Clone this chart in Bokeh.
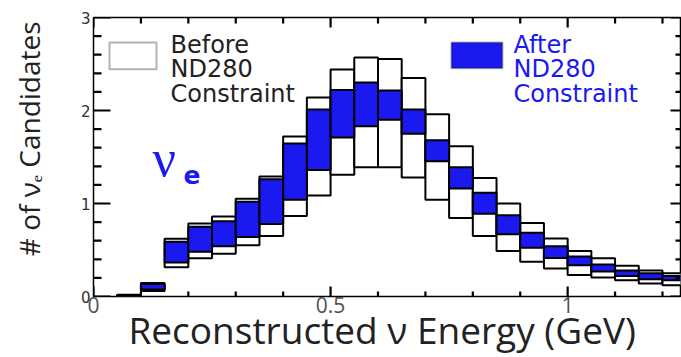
from bokeh.plotting import figure
from bokeh.models import Range1d, FixedTicker, Label, BoxAnnotation, ColumnDataSource
from bokeh.embed import file_html
from bokeh.resources import INLINE

# Reconstructed neutrino energy bins (GeV): lower edges and common width
bin_lo = [0.05, 0.10, 0.15, 0.20, 0.25, 0.30, 0.35, 0.40, 0.45, 0.50, 0.55, 0.60,
          0.65, 0.70, 0.75, 0.80, 0.85, 0.90, 0.95, 1.00, 1.05, 1.10, 1.15, 1.20]
bin_width = 0.05

# Expected nu_e candidates: error band before the ND280 constraint
before_lo = [0.00, 0.06, 0.315, 0.41, 0.46, 0.55, 0.65, 0.865, 1.085, 1.31, 1.39, 1.39,
             1.28, 1.04, 0.845, 0.65, 0.49, 0.375, 0.30, 0.23, 0.205, 0.175, 0.14, 0.12]
before_hi = [0.02, 0.145, 0.62, 0.785, 0.86, 1.05, 1.29, 1.72, 2.14, 2.44, 2.57, 2.555,
             2.35, 1.96, 1.615, 1.275, 1.00, 0.79, 0.625, 0.49, 0.41, 0.33, 0.28, 0.25]

# ... and after the ND280 constraint
after_lo = [0.005, 0.075, 0.365, 0.48, 0.54, 0.64, 0.78, 1.04, 1.36, 1.71, 1.83, 1.90,
            1.75, 1.455, 1.16, 0.89, 0.67, 0.525, 0.415, 0.335, 0.27, 0.22, 0.185, 0.175]
after_hi = [0.015, 0.135, 0.59, 0.75, 0.81, 1.02, 1.26, 1.645, 2.01, 2.22, 2.30, 2.215,
            2.01, 1.68, 1.39, 1.115, 0.875, 0.685, 0.54, 0.43, 0.345, 0.28, 0.25, 0.22]

x_major = [0, 0.5, 1.0]
x_minor = [0.1, 0.2, 0.3, 0.4, 0.6, 0.7, 0.8, 0.9, 1.1, 1.2]
y_major = [0, 1, 2, 3]
y_minor = [0.2, 0.4, 0.6, 0.8, 1.2, 1.4, 1.6, 1.8, 2.2, 2.4, 2.6, 2.8]

BLUE = "#1a1af0"
INK = "#222222"

X_END, Y_END = 1.238, 3.0
FRAME_W, FRAME_H = 587, 280

p = figure(width=681, height=357, x_range=Range1d(0, X_END), y_range=Range1d(0, Y_END),
           output_backend="svg", toolbar_location=None,
           min_border_left=93, min_border_right=1, min_border_top=17, min_border_bottom=60)
p.xgrid.visible = False
p.ygrid.visible = False
p.outline_line_color = "black"
p.outline_line_width = 1.5
p.background_fill_color = "white"
p.border_fill_color = "white"

bin_hi = [b + bin_width for b in bin_lo]
src_before = ColumnDataSource(dict(left=bin_lo, right=bin_hi, bottom=before_lo, top=before_hi))
src_after = ColumnDataSource(dict(left=bin_lo, right=bin_hi, bottom=after_lo, top=after_hi))

p.quad(left="left", right="right", bottom="bottom", top="top", source=src_before,
       fill_color="white", line_color="black", line_width=2)
p.quad(left="left", right="right", bottom="bottom", top="top", source=src_after,
       fill_color=BLUE, line_color="black", line_width=2)

# inward tick marks on all four sides: rects sized in screen pixels,
# centred half a tick length inside the frame edge
dx = X_END / FRAME_W
dy = Y_END / FRAME_H
TICK_W = 2.2

rx, ry, rw, rh = [], [], [], []


def y_ticks(at, x_edge, length, sign):
    for v in at:
        rx.append(x_edge + sign * 0.5 * length * dx)
        ry.append(v)
        rw.append(length)
        rh.append(TICK_W)


def x_ticks(at, y_edge, length, sign):
    for v in at:
        rx.append(v)
        ry.append(y_edge + sign * 0.5 * length * dy)
        rw.append(TICK_W)
        rh.append(length)


y_ticks(y_major, 0.0, 17, 1)
y_ticks(y_minor, 0.0, 8, 1)
y_ticks(y_major, X_END, 10, -1)
y_ticks(y_minor, X_END, 5, -1)
x_ticks(x_major, 0.0, 10, 1)
x_ticks(x_minor, 0.0, 5, 1)
x_ticks(x_major, Y_END, 10, -1)
x_ticks(x_minor, Y_END, 6, -1)

p.rect(x="x", y="y", width="w", height="h", width_units="screen", height_units="screen",
       source=ColumnDataSource(dict(x=rx, y=ry, w=rw, h=rh)),
       fill_color="black", line_color=None)

for ax in (p.xaxis[0], p.yaxis[0]):
    ax.axis_line_color = None
    ax.major_tick_line_color = None
    ax.minor_tick_line_color = None
    ax.major_tick_in = 0
    ax.major_tick_out = 0
    ax.minor_tick_in = 0
    ax.minor_tick_out = 0

xb = p.xaxis[0]
xb.ticker = FixedTicker(ticks=x_major, minor_ticks=x_minor)
xb.major_label_overrides = {0: "0", 0.5: "0.5", 1.0: "1"}
xb.major_label_text_font = "Open Sans"
xb.major_label_text_font_size = "21px"
xb.major_label_text_color = "#505050"
xb.major_label_standoff = 0
xb.axis_label = "Reconstructed \u03bd Energy (GeV)\u00a0"
xb.axis_label_text_font = "Open Sans"
xb.axis_label_text_font_size = "37px"
xb.axis_label_text_font_style = "normal"
xb.axis_label_text_color = INK
xb.axis_label_standoff = -12

yl = p.yaxis[0]
yl.ticker = FixedTicker(ticks=y_major, minor_ticks=y_minor)
yl.major_label_text_font = "DejaVu Sans"
yl.major_label_text_font_size = "15px"
yl.major_label_text_color = "#303030"
yl.major_label_standoff = 3
yl.axis_label = "\u00a0" * 5 + "# of \u03bd\u2091 Candidates"
yl.axis_label_text_font = "Open Sans"
yl.axis_label_text_font_size = "28px"
yl.axis_label_text_font_style = "normal"
yl.axis_label_text_color = INK
yl.axis_label_standoff = 30

# nu_e tag
p.add_layout(Label(x=0.1244, y=1.489, text="\u03bd", text_font="Liberation Serif",
                   text_font_size="52px", text_color=BLUE, text_align="left",
                   text_baseline="alphabetic"))
p.add_layout(Label(x=0.1898, y=1.307, text="e", text_font="DejaVu Sans",
                   text_font_size="25px", text_font_style="bold", text_color=BLUE,
                   text_align="left", text_baseline="alphabetic"))

# legend: swatches and three-line captions
p.add_layout(BoxAnnotation(left=0.0337, right=0.1329, bottom=2.443, top=2.732,
                           fill_color="white", fill_alpha=1.0,
                           line_color="black", line_width=2))
p.add_layout(BoxAnnotation(left=0.7549, right=0.8625, bottom=2.454, top=2.732,
                           fill_color=BLUE, fill_alpha=1.0,
                           line_color="black", line_width=2))
for x0, color, lines in [(0.1624, INK, ["Before", "ND280", "Constraint"]),
                         (0.8857, BLUE, ["After", "ND280", "Constraint"])]:
    for yb, txt in zip([2.706, 2.443, 2.181], lines):
        p.add_layout(Label(x=x0, y=yb, text=txt, text_font="DejaVu Sans",
                           text_font_size="24px", text_color=color,
                           text_align="left", text_baseline="alphabetic"))

open("out.html", "w").write(file_html(p, INLINE))
